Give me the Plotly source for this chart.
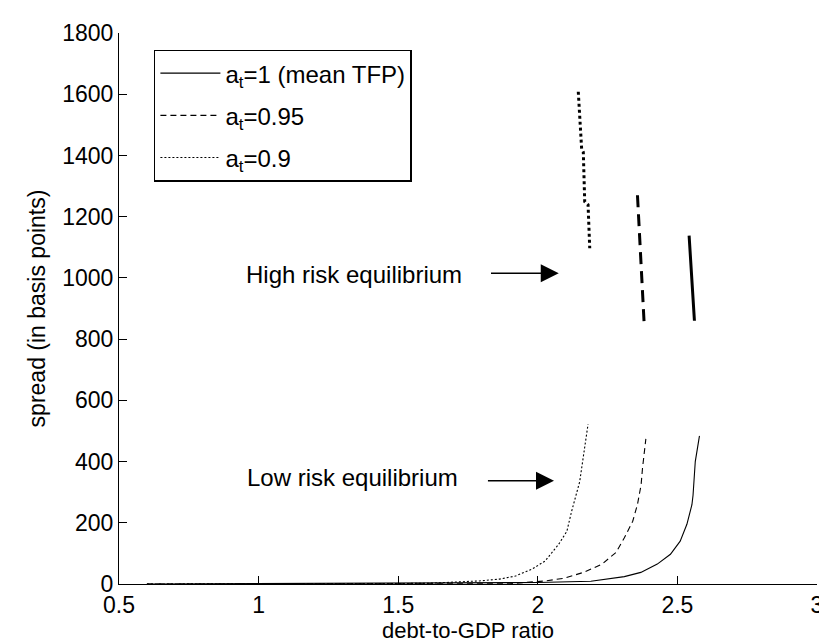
import plotly.graph_objects as go

# ---- data ----
labels = ["a<sub>t</sub>=1 (mean TFP)", "a<sub>t</sub>=0.95", "a<sub>t</sub>=0.9"]

# a_t = 1 (mean TFP)
x_low_1 = [0.6, 1.0, 1.2, 1.5, 1.8, 2.0, 2.19, 2.251, 2.31, 2.369, 2.428, 2.475, 2.51, 2.534, 2.552, 2.556, 2.564, 2.579]
y_low_1 = [0, 1, 2, 3, 4, 5, 9, 16, 24, 38, 65, 97, 140, 195, 259, 290, 400, 484]
x_high_1 = [2.542, 2.552, 2.561]
y_high_1 = [1138, 1000, 860]

# a_t = 0.95
x_low_2 = [0.6, 1.5, 1.9, 2.026, 2.096, 2.167, 2.23, 2.28, 2.31, 2.34, 2.357, 2.37, 2.375, 2.387]
y_low_2 = [0, 0, 1, 10, 19, 39, 65, 103, 151, 205, 260, 324, 378, 474]
x_high_2 = [2.357, 2.368, 2.381]
y_high_2 = [1270, 1060, 849]

# a_t = 0.9
x_low_3 = [0.6, 1.2, 1.6, 1.79, 1.863, 1.92, 1.98, 2.026, 2.075, 2.104, 2.121, 2.15, 2.18]
y_low_3 = [0, 0, 2, 10, 16, 26, 49, 75, 130, 172, 237, 334, 522]
x_high_3 = [2.145, 2.157, 2.163, 2.168, 2.18, 2.186]
y_high_3 = [1608, 1422, 1411, 1249, 1239, 1097]

x_ticks = [0.5, 1, 1.5, 2, 2.5, 3]
y_ticks = [0, 200, 400, 600, 800, 1000, 1200, 1400, 1600, 1800]

FONT = "Liberation Sans, Arial, Helvetica, sans-serif"

fig = go.Figure()

series = [
    (x_low_1, y_low_1, x_high_1, y_high_1, "solid", "solid"),
    (x_low_2, y_low_2, x_high_2, y_high_2, "6px,4px", "12px,7px"),
    (x_low_3, y_low_3, x_high_3, y_high_3, "2px,2px", "3px,3px"),
]

for i, (xl, yl, xh, yh, dlow, dhigh) in enumerate(series):
    fig.add_trace(go.Scatter(
        x=xl, y=yl, mode="lines", name=labels[i], legendgroup=f"g{i}",
        line=dict(color="black", width=1.1, dash=dlow),
    ))
    fig.add_trace(go.Scatter(
        x=xh, y=yh, mode="lines", showlegend=False, legendgroup=f"g{i}",
        line=dict(color="black", width=3, dash=dhigh),
    ))

# annotations: labels and arrows
fig.add_annotation(x=0.946, y=1012, xref="x", yref="y", text="High risk equilibrium",
                   showarrow=False, xanchor="left", yanchor="middle",
                   font=dict(family=FONT, size=24, color="black"))
fig.add_annotation(x=0.95, y=347, xref="x", yref="y", text="Low risk equilibrium",
                   showarrow=False, xanchor="left", yanchor="middle",
                   font=dict(family=FONT, size=24, color="black"))
fig.add_annotation(x=2.075, y=1015, ax=1.827, ay=1015, xref="x", yref="y",
                   axref="x", ayref="y", text="", showarrow=True,
                   arrowhead=2, arrowsize=2.4, arrowwidth=1.5, arrowcolor="black")
fig.add_annotation(x=2.058, y=337, ax=1.816, ay=337, xref="x", yref="y",
                   axref="x", ayref="y", text="", showarrow=True,
                   arrowhead=2, arrowsize=2.4, arrowwidth=1.5, arrowcolor="black")

fig.update_layout(
    width=827, height=644,
    margin=dict(l=111, r=13, t=21, b=68),
    paper_bgcolor="white", plot_bgcolor="white",
    font=dict(family=FONT, size=23, color="black"),
    showlegend=True,
    legend=dict(
        x=0.05, y=0.97, xanchor="left", yanchor="top",
        bgcolor="white", bordercolor="black", borderwidth=1.5,
        font=dict(family=FONT, size=24, color="black"),
        tracegroupgap=8, itemwidth=60,
    ),
    xaxis=dict(
        range=[0.5, 3], tickvals=x_ticks, ticktext=[f"{v:g}" for v in x_ticks],
        showline=True, linecolor="black", linewidth=1.2, mirror=False,
        ticks="inside", ticklen=8, tickcolor="black", tickwidth=1.2,
        showgrid=False, zeroline=False,
        title=dict(text="debt-to-GDP ratio", standoff=0, font=dict(size=22)),
        tickfont=dict(size=23),
    ),
    yaxis=dict(
        range=[0, 1800], tickvals=y_ticks,
        showline=True, linecolor="black", linewidth=1.2, mirror=False,
        ticks="inside", ticklen=8, tickcolor="black", tickwidth=1.2,
        showgrid=False, zeroline=False,
        title=dict(text="spread (in basis points)", standoff=10, font=dict(size=23)),
        tickfont=dict(size=23),
    ),
)

fig.write_html("out.html")
